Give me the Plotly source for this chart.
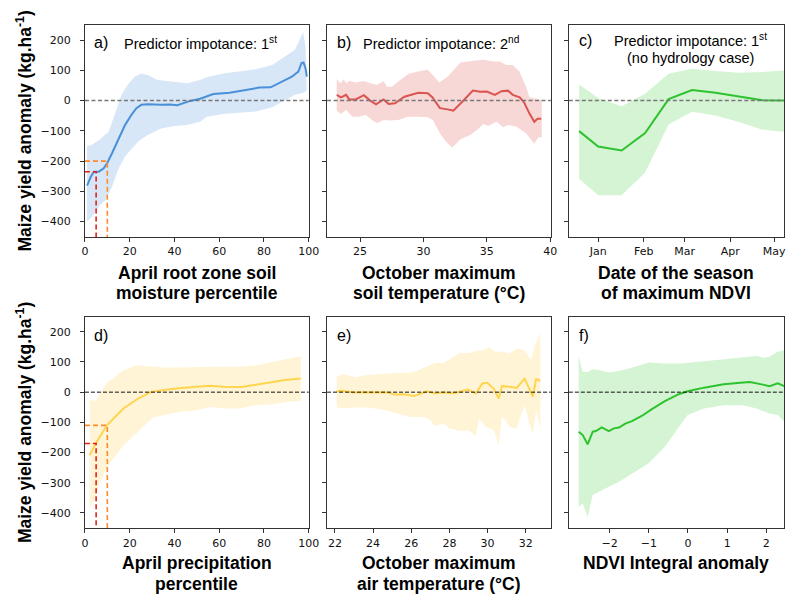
import plotly.graph_objects as go

W, H = 795, 595

# ---------------- data ----------------
# a) April root zone soil moisture percentile
a_x = [0.95, 2.6, 4.0, 6.2, 8.4, 9.9, 12.1, 15, 17.9, 20.8, 23, 25.2, 28.1, 34, 38, 41.3, 44, 47.1,
       51.5, 57.4, 64.7, 72, 77.9, 83, 88, 92.5, 95.4, 96.8, 97.7, 98.6, 99.2]
a_y = [-281, -252, -235, -235, -224, -207, -174, -130, -81, -47, -25, -14, -12, -14, -13, -15, -8, -1,
       6, 22, 26, 35, 43, 44, 63, 79, 96, 124, 126, 107, 79]
a_up_x = [0.95, 2.9, 6.2, 10.6, 13.5, 16.4, 19.4, 22.3, 25.2, 28.1, 32.5, 40, 45.7, 51.5, 54.4, 61.8,
          69.1, 76.4, 83.7, 89.5, 93.9, 96.9, 97.5, 98.6, 99.2]
a_up_y = [-150, -147, -131, -103, -42, 20, 55, 80, 90, 85, 68, 63, 57, 68, 77, 90,
          96, 104, 118, 146, 168, 217, 228, 179, 40]
a_lo_x = [0.95, 3.3, 6.2, 9.1, 12.1, 15, 17.9, 20.8, 23.8, 28.1, 34, 39.8, 45.7, 51.5, 54.4, 61.8,
          69.1, 76.4, 83.7, 89.5, 93.9, 96.9, 98.6, 99.2]
a_lo_y = [-400, -384, -351, -329, -285, -225, -185, -160, -135, -114, -92, -84, -81, -70, -53, -44,
          -40, -36, -22, 2, 19, 24, 30, 35]
a_thr_x = [5, 10]
a_thr_y = [-235, -200]

# b) October maximum soil temperature
b_x = [23.16, 23.5, 23.9, 24.15, 24.66, 25.3, 25.8, 26.26, 26.86, 27.25, 27.76, 28.5, 29.6, 30.35,
       30.7, 31.3, 31.9, 32.36, 33.2, 33.9, 34.48, 35.0, 35.64, 36.16, 36.67, 37.05, 37.6, 37.96,
       38.36, 38.75, 39.0, 39.3]
b_y = [19, 11, 19, 4, 4, 18, 0, -12, 4, -11, -9, 13, 26, 24, 11, -25, -29, -33, 2, 33, 29, 30, 19,
       31, 33, 19, 11, -7, -42, -70, -60, -60]
b_up_x = [23.16, 23.5, 23.68, 23.94, 24.15, 24.66, 25.31, 25.82, 26.34, 26.86, 27.12, 27.5, 28.02,
          28.8, 29.57, 30.35, 30.86, 31.25, 31.9, 32.93, 33.96, 34.74, 35.51, 36.03, 36.55, 37.06,
          37.58, 38.1, 38.36, 38.87, 39.34]
b_up_y = [71, 57, 71, 57, 66, 60, 65, 57, 52, 65, 46, 46, 63, 88, 96, 102, 79, 60, 79, 126, 132,
          135, 129, 129, 118, 118, 96, 46, 11, 7, 2]
b_lo_x = [23.16, 23.5, 23.89, 24.4, 24.92, 25.44, 25.95, 26.34, 26.86, 27.25, 28.02, 28.8, 29.57,
          30.35, 30.74, 31.38, 31.9, 32.29, 32.93, 33.7, 34.22, 34.74, 35.12, 35.77, 36.29, 36.67,
          37.32, 38.1, 38.74, 39.08, 39.34]
b_lo_y = [-33, -44, -31, -53, -53, -47, -64, -75, -64, -66, -64, -53, -53, -55, -64, -114, -141,
          -155, -128, -114, -97, -77, -84, -70, -88, -81, -86, -108, -143, -121, -121]

# c) Date of the season of maximum NDVI
c_dates = ['2000-12-19', '2001-01-01', '2001-01-17', '2001-02-02', '2001-02-18', '2001-03-06',
           '2001-03-22', '2001-04-07', '2001-04-23', '2001-05-09']
c_y = [-101, -152, -165, -107, 5, 35, 26, 14, 1, 0]
c_up = [53, 9, -19, 23, 89, 105, 98, 92, 95, 100]
c_lo = [-258, -313, -313, -238, -79, -37, -49, -71, -96, -104]
c_ticks = ['2001-01-01', '2001-02-01', '2001-03-01', '2001-04-01', '2001-05-01']
c_ticktext = ['Jan', 'Feb', 'Mar', 'Apr', 'May']

# d) April precipitation percentile
d_x = [2.1, 4.8, 9.9, 17.2, 23.8, 29.6, 35.5, 42.8, 50.1, 55.9, 61.8, 69.8, 74.9, 82.2, 89.5, 96.5]
d_y = [-209, -170, -109, -54, -21, 1, 7, 14, 18, 21, 18, 17, 23, 31, 40, 45]
d_up_x = [2.1, 4.8, 6.2, 9.9, 13.5, 17.2, 23, 28.1, 35.5, 42.8, 50.1, 57.4, 69.1, 76.4, 83.7, 91, 96.5]
d_up_y = [-24, -29, -10, 31, 51, 73, 89, 86, 82, 82, 84, 84, 84, 89, 100, 111, 119]
d_lo_x = [2.1, 4.8, 6.2, 9.9, 13.5, 17.2, 23, 30.3, 35.5, 42.8, 50.1, 55.9, 61.8, 69.1, 76.4, 83.7,
          91, 96.5]
d_lo_y = [-385, -347, -308, -247, -214, -176, -137, -84, -76, -65, -60, -49, -54, -54, -43, -40,
          -32, -30]
d_thr_x = [5, 10]
d_thr_y = [-170, -110]

# e) October maximum air temperature
e_x = [22.09, 22.39, 22.74, 23.08, 23.59, 24.1, 24.78, 25.12, 25.63, 26.14, 26.49, 26.83, 27.25,
       27.68, 28.19, 28.53, 28.96, 29.38, 29.73, 29.98, 30.32, 30.58, 30.75, 31.17, 31.52, 31.94,
       32.2, 32.37, 32.54, 32.76]
e_y = [3, 5, 1, -1, 0, -1, -1, -8, -7, -13, -4, 3, -4, 0, -4, 1, 9, -4, 29, 31, 12, -21, 20, 18,
       14, 45, 12, -15, 43, 38]
e_up_x = [22.09, 22.39, 23.08, 23.59, 24.44, 25.29, 25.97, 26.32, 26.83, 27.25, 27.68, 28.19,
          28.53, 29.04, 29.38, 29.73, 30.07, 30.41, 30.83, 31.17, 31.52, 31.94, 32.28, 32.45, 32.76]
e_up_y = [51, 60, 49, 56, 60, 64, 64, 71, 86, 97, 97, 117, 130, 130, 137, 139, 148, 134, 134,
          128, 145, 139, 106, 150, 196]
e_lo_x = [22.09, 22.39, 23.08, 23.59, 24.44, 25.29, 25.97, 26.66, 27.0, 27.25, 27.68, 28.02,
          28.53, 29.04, 29.38, 29.55, 29.9, 30.32, 30.58, 30.75, 31.17, 31.52, 31.94, 32.2, 32.37,
          32.54, 32.76]
e_lo_y = [-49, -54, -51, -51, -57, -71, -82, -82, -93, -113, -104, -120, -128, -128, -146, -87,
          -115, -126, -175, -79, -115, -120, -43, -109, -137, -60, -120]

# f) NDVI Integral anomaly
f_x = [-2.79, -2.685, -2.56, -2.43, -2.35, -2.2, -2.02, -1.89, -1.76, -1.6, -1.43, -1.18, -0.93,
       -0.59, -0.26, -0.01, 0.41, 0.91, 1.41, 1.58, 1.91, 2.08, 2.29, 2.46]
f_y = [-131, -142, -173, -131, -129, -117, -129, -120, -117, -104, -96, -79, -57, -30, -8, 3, 15,
       26, 32, 34, 25, 20, 29, 20]
f_up_x = [-2.79, -2.685, -2.56, -2.43, -2.27, -2.02, -1.76, -1.43, -1.01, -0.59, -0.18, 0.24,
          0.66, 1.08, 1.5, 1.75, 1.91, 2.08, 2.29, 2.46]
f_up_y = [117, 67, 67, 76, 73, 65, 70, 81, 98, 95, 95, 100, 106, 111, 117, 120, 114, 117, 134, 139]
f_lo_x = [-2.79, -2.685, -2.56, -2.43, -2.27, -2.02, -1.76, -1.43, -1.01, -0.59, -0.26, -0.01,
          0.41, 0.91, 1.41, 1.75, 2.08, 2.29, 2.46]
f_lo_y = [-380, -369, -413, -341, -330, -313, -297, -269, -236, -181, -120, -76, -54, -43, -43,
          -54, -71, -76, -98]

y_ticks = [-400, -300, -200, -100, 0, 100, 200]
Y_RANGE = [-451, 250]

# ---------------- styles ----------------
BLUE, BLUE_F = '#4a90d9', 'rgba(74,144,217,0.22)'
RED, RED_F = '#dc5450', 'rgba(225,100,95,0.25)'
GREEN, GREEN_F = '#2fc22f', 'rgba(60,205,60,0.22)'
YEL, YEL_F = '#ffd54f', 'rgba(255,214,90,0.25)'
THR_COLORS = ['#e3201b', '#ff8a2a']

fig = go.Figure()


def ax_ids(i):
    s = '' if i == 1 else str(i)
    return 'x' + s, 'y' + s


def band(i, xu, yu, xl, yl, color):
    xa, ya = ax_ids(i)
    fig.add_trace(go.Scatter(x=list(xu) + list(xl)[::-1], y=list(yu) + list(yl)[::-1],
                             fill='toself', fillcolor=color, mode='lines', line=dict(width=0),
                             hoverinfo='skip', showlegend=False, xaxis=xa, yaxis=ya))


def line(i, x, y, color, width=2):
    xa, ya = ax_ids(i)
    fig.add_trace(go.Scatter(x=x, y=y, mode='lines', line=dict(color=color, width=width),
                             showlegend=False, xaxis=xa, yaxis=ya))


def thresholds(i, tx, ty):
    xa, ya = ax_ids(i)
    for t, v, c in zip(tx, ty, THR_COLORS):
        fig.add_trace(go.Scatter(x=[0, t, t], y=[v, v, Y_RANGE[0]], mode='lines',
                                 line=dict(color=c, width=1.6, dash='5px,3px'),
                                 showlegend=False, xaxis=xa, yaxis=ya))


band(1, a_up_x, a_up_y, a_lo_x, a_lo_y, BLUE_F)
line(1, a_x, a_y, BLUE)
thresholds(1, a_thr_x, a_thr_y)

band(2, b_up_x, b_up_y, b_lo_x, b_lo_y, RED_F)
line(2, b_x, b_y, RED)

band(3, c_dates, c_up, c_dates, c_lo, GREEN_F)
line(3, c_dates, c_y, GREEN)

band(4, d_up_x, d_up_y, d_lo_x, d_lo_y, YEL_F)
line(4, d_x, d_y, YEL)
thresholds(4, d_thr_x, d_thr_y)

band(5, e_up_x, e_up_y, e_lo_x, e_lo_y, YEL_F)
line(5, e_x, e_y, YEL)

band(6, f_up_x, f_up_y, f_lo_x, f_lo_y, GREEN_F)
line(6, f_x, f_y, GREEN)

# ---------------- layout ----------------
cols = [(82.5, 310.5), (329.3, 557.3), (575.7, 795)]
rows = [(25, 237), (316.7, 528.3)]


def xdom(c):
    return [cols[c][0] / W, min(1.0, cols[c][1] / W)]


def ydom(r):
    return [1 - rows[r][1] / H, 1 - rows[r][0] / H]


TICKFONT = dict(family='DejaVu Sans', size=11, color='#111')
common = dict(showline=True, mirror=True, linecolor='#333', linewidth=1, ticks='outside',
              ticklen=4, tickwidth=1, tickcolor='#333', showgrid=False, zeroline=False,
              tickfont=TICKFONT)

x_specs = [
    dict(range=[0, 100], tickvals=[0, 20, 40, 60, 80, 100]),
    dict(range=[22.4, 40.05], tickvals=[25, 30, 35, 40]),
    dict(type='date', range=['2000-12-12', '2001-05-07 16:00'], tickvals=c_ticks,
         ticktext=c_ticktext),
    dict(range=[0, 100], tickvals=[0, 20, 40, 60, 80, 100]),
    dict(range=[21.59, 33.31], tickvals=[22, 24, 26, 28, 30, 32]),
    dict(range=[-3.04, 2.45], tickvals=[-2, -1, 0, 1, 2]),
]

layout = dict(width=W, height=H, margin=dict(l=0, r=0, t=0, b=0), plot_bgcolor='white',
              paper_bgcolor='white', showlegend=False)
shapes = []
for i in range(1, 7):
    r, c = (i - 1) // 3, (i - 1) % 3
    s = '' if i == 1 else str(i)
    xa = dict(common, domain=xdom(c), anchor='y' + s, **x_specs[i - 1])
    ya = dict(common, domain=ydom(r), anchor='x' + s, range=Y_RANGE, tickvals=y_ticks,
              showticklabels=(c == 0), ticklabelstandoff=7)
    layout['xaxis' + s] = xa
    layout['yaxis' + s] = ya
    if r == 0:
        zl = dict(color='#777', width=1.5, dash='4px,2.5px')
    else:
        zl = dict(color='#111', width=1, dash='4px,2px')
    shapes.append(dict(type='line', xref='x' + s + ' domain', yref='y' + s, x0=0, x1=1, y0=0,
                       y1=0, line=zl, layer='above'))
layout['shapes'] = shapes

ann = []


def text(px, py, t, size, bold=False, xanchor='center', family='Liberation Sans'):
    if bold:
        t = '<b>' + t + '</b>'
    ann.append(dict(x=px / W, y=1 - py / H, xref='paper', yref='paper', text=t, showarrow=False,
                    xanchor=xanchor, yanchor='middle', font=dict(family=family, size=size,
                                                                 color='black')))


# panel letters and importance notes
PS = 14.5
text(90, 43, 'a)', 16, xanchor='left')
text(200, 43, 'Predictor impotance: 1<sup>st</sup>', PS)
text(337, 43, 'b)', 16, xanchor='left')
text(445.5, 43, 'Predictor impotance: 2<sup>nd</sup>', PS)
text(584, 41, 'c)', 16, xanchor='left')
text(699.5, 40, 'Predictor impotance: 1<sup>st</sup>', PS)
text(699.5, 58, '(no hydrology case)', PS)
text(90, 335, 'd)', 16, xanchor='left')
text(337, 335, 'e)', 16, xanchor='left')
text(584, 335, 'f)', 16, xanchor='left')

# x-axis titles (two lines each)
XT = 17.5
text(196.5, 273, 'April root zone soil', XT, bold=True)
text(196.5, 293, 'moisture percentile', XT, bold=True)
text(443.3, 273, 'October maximum', XT, bold=True)
text(443.3, 293, 'soil temperature (°C)', XT, bold=True)
text(685, 273, 'Date of the season', XT, bold=True)
text(685, 293, 'of maximum NDVI', XT, bold=True)
text(196.5, 563, 'April precipitation', XT, bold=True)
text(196.5, 584, 'percentile', XT, bold=True)
text(443.3, 563, 'October maximum', XT, bold=True)
text(443.3, 584, 'air temperature (°C)', XT, bold=True)
text(685, 563, 'NDVI Integral anomaly', XT, bold=True)

# y-axis titles
for cy in (131, 422.5):
    ann.append(dict(x=20 / W, y=1 - cy / H, xref='paper', yref='paper',
                    text='<b>Maize yield anomaly (kg.ha<sup>-1</sup>)</b>', showarrow=False,
                    textangle=-90, xanchor='center', yanchor='middle',
                    font=dict(family='Liberation Sans', size=XT, color='black')))

layout['annotations'] = ann
fig.update_layout(**layout)
fig.write_html('out.html', config={'displayModeBar': False},
               post_script="document.body.style.margin='0';document.body.style.padding='0';"
                           "document.body.style.overflow='hidden';")
